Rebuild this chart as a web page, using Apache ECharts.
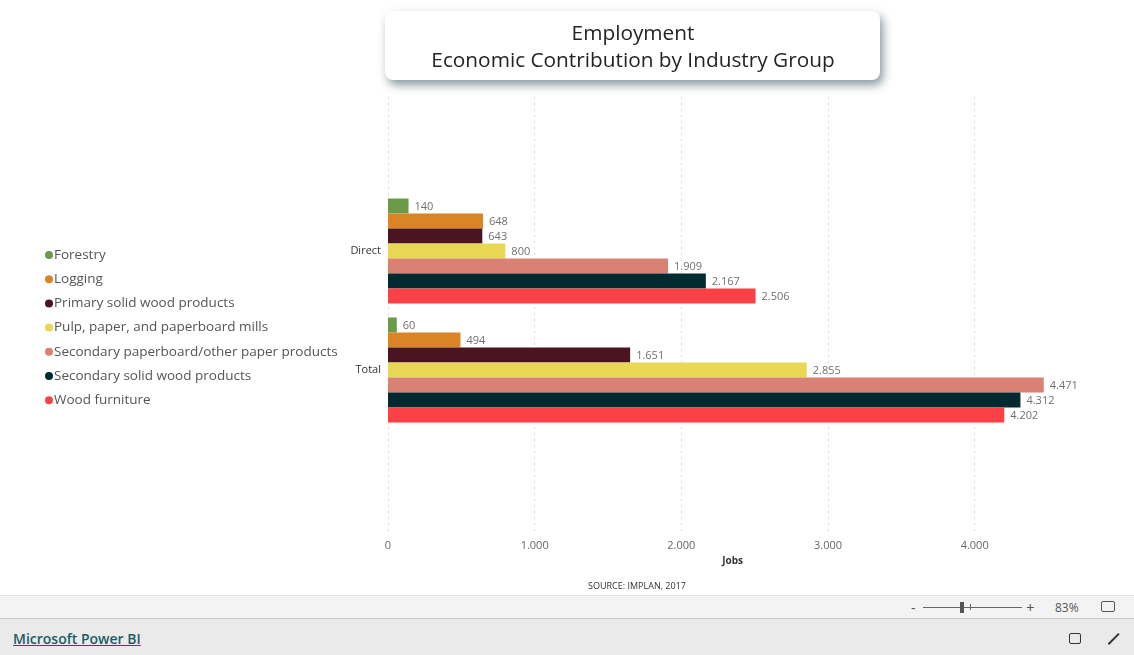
<!DOCTYPE html>
<html>
<head>
<meta charset="utf-8">
<script src="https://cdn.jsdelivr.net/npm/echarts@6/dist/echarts.min.js"></script>
<style>
  html, body { margin: 0; padding: 0; width: 1134px; height: 655px; overflow: hidden; background: #fff; font-family: "Segoe UI", "Open Sans", "Noto Sans", sans-serif; }
  #chart { position: absolute; left: 0; top: 0; width: 1134px; height: 596px; }
  #bar1 { position: absolute; left: 0; top: 595px; width: 1134px; height: 22px; background: #f3f3f3; border-top: 1px solid #e3e3e3; border-bottom: 1px solid #c8c8c8; }
  #bar2 { position: absolute; left: 0; top: 619px; width: 1134px; height: 36px; background: #eaeaea; }
  #pbi { position: absolute; left: 13px; top: 629px; font-size: 14px; color: #1c5c66; text-decoration: underline; font-weight: 600; }
  .ctl { position: absolute; font-size: 12px; color: #555; }
</style>
</head>
<body>
<div id="chart"></div>
<div id="bar1">
  <span class="ctl" style="left:911px;top:2px;font-size:14px;">-</span>
  <div style="position:absolute;left:923px;top:11px;width:99px;height:1px;background:#666;"></div>
  <div style="position:absolute;left:960px;top:6px;width:4px;height:11px;background:#555;"></div>
  <div style="position:absolute;left:970px;top:8px;width:1px;height:6px;background:#666;"></div>
  <span class="ctl" style="left:1026px;top:1px;font-size:15px;">+</span>
  <span class="ctl" style="left:1055px;top:3px;">83%</span>
  <div style="position:absolute;left:1101px;top:5px;width:12px;height:9px;border:1px solid #555;border-radius:2px;"></div>
</div>
<div id="bar2">
  <div style="position:absolute;left:1069px;top:14px;width:10px;height:9px;border:1px solid #333;border-radius:2px;"></div>
  <div style="position:absolute;left:1106px;top:19px;width:15px;height:1.5px;background:#333;transform:rotate(-45deg);"></div>
</div>
<a id="pbi">Microsoft Power BI</a>
<script>
const categories = ['Direct', 'Total'];
const seriesNames = [
  'Forestry',
  'Logging',
  'Primary solid wood products',
  'Pulp, paper, and paperboard mills',
  'Secondary paperboard/other paper products',
  'Secondary solid wood products',
  'Wood furniture'
];
const forestry = [140, 60];
const logging = [648, 494];
const primarySolidWood = [643, 1651];
const pulpPaper = [800, 2855];
const secondaryPaperboard = [1909, 4471];
const secondarySolidWood = [2167, 4312];
const woodFurniture = [2506, 4202];
const seriesValues = [forestry, logging, primarySolidWood, pulpPaper, secondaryPaperboard, secondarySolidWood, woodFurniture];
const colors = ['#6A9A4A', '#DA8426', '#4A1420', '#E8D856', '#D98174', '#002A30', '#FB4146'];

function fmt(v) {
  return String(Math.round(v)).replace(/\B(?=(\d{3})+(?!\d))/g, '.');
}

const FONT = '"Segoe UI", "Open Sans", "Noto Sans", sans-serif';
const chart = echarts.init(document.getElementById('chart'));
const AX_MAX = 4700;

chart.setOption({
  animation: false,
  textStyle: { fontFamily: FONT },
  title: [
    {
      text: 'Employment\nEconomic Contribution by Industry Group',
      left: 628, top: 16, textAlign: 'center',
      textStyle: { fontSize: 20.8, fontWeight: 'normal', color: '#252423', lineHeight: 27, fontFamily: FONT }
    },
    {
      text: 'SOURCE: IMPLAN, 2017',
      left: 632, top: 577, textAlign: 'center',
      textStyle: { fontSize: 9, fontWeight: 'normal', color: '#333', fontFamily: FONT }
    }
  ],
  graphic: [
    {
      type: 'rect', z: -1,
      shape: { x: 385, y: 11, width: 495, height: 69, r: 8 },
      style: { fill: '#fff', shadowBlur: 10, shadowOffsetX: 3, shadowOffsetY: 5, shadowColor: 'rgba(40,70,80,0.55)' }
    }
  ],
  legend: {
    data: seriesNames,
    orient: 'vertical',
    left: 40, top: 243,
    icon: 'circle', itemWidth: 8, itemHeight: 8, itemGap: 10.2,
    selectedMode: false,
    textStyle: { fontSize: 13.5, color: '#555', fontFamily: FONT, padding: [0, 0, 0, -4] }
  },
  grid: [
    { left: 388, right: 1134 - 388 - AX_MAX * 0.14667, top: 191.5, height: 238 },
    { left: 388, right: 1134 - 388 - AX_MAX * 0.14667, top: 97, height: 435 }
  ],
  xAxis: [
    { type: 'value', gridIndex: 0, min: 0, max: AX_MAX, show: false, splitLine: { show: false } },
    {
      type: 'value', gridIndex: 1, min: 0, max: AX_MAX, interval: 1000,
      name: 'Jobs', nameLocation: 'middle', nameGap: 24,
      nameTextStyle: { fontSize: 10, fontWeight: 'bold', color: '#333' },
      axisLine: { show: false }, axisTick: { show: false },
      axisLabel: { fontSize: 11, color: '#666', margin: 8, showMaxLabel: false, formatter: fmt },
      splitLine: { show: true, showMaxLine: false, lineStyle: { color: '#d9d9d9', type: [2, 4], width: 1 } }
    }
  ],
  yAxis: [
    {
      type: 'category', gridIndex: 0, data: categories, inverse: true,
      axisLine: { show: false }, axisTick: { show: false },
      axisLabel: { fontSize: 11, color: '#333', margin: 7 }
    },
    { type: 'value', gridIndex: 1, show: false }
  ],
  series: seriesNames.map((name, i) => ({
    name: name,
    type: 'bar',
    xAxisIndex: 0, yAxisIndex: 0,
    data: seriesValues[i],
    barWidth: 15,
    barGap: '0%',
    itemStyle: { color: colors[i] },
    label: {
      show: true, position: 'right', distance: 6, offset: [0, 1],
      fontSize: 11, color: '#707070', formatter: p => fmt(p.value)
    }
  }))
});
</script>
</body>
</html>
